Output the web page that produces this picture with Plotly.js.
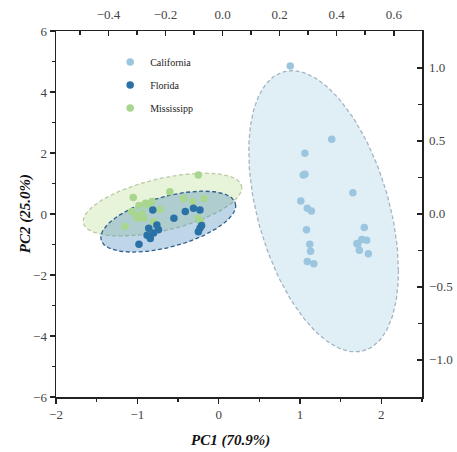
<!DOCTYPE html>
<html>
<head>
<meta charset="utf-8">
<script src="https://cdn.plot.ly/plotly-3.0.1.min.js"></script>
<style>html,body{margin:0;padding:0;background:#fff;}#chart{width:457px;height:452px;}</style>
</head>
<body>
<div id="chart"></div>
<script>
// Groups
var groups = ["California", "Florida", "Mississipp"];
var colors = ["#9cc6df", "#2a72a6", "#a8d68f"];

// PC scores
var californiaX = [0.88, 1.39, 1.06, 1.04, 1.06, 1.01, 1.09, 1.14, 1.65, 1.08, 1.12, 1.13, 1.09, 1.17, 1.79, 1.71, 1.76, 1.82, 1.73, 1.84, 1.70];
var californiaY = [4.85, 2.45, 1.99, 1.28, 1.30, 0.43, 0.19, 0.10, 0.70, -0.52, -0.99, -1.22, -1.56, -1.63, -0.44, -0.99, -0.84, -0.86, -1.19, -1.30, -0.97];

var floridaX = [-0.81, -0.86, -0.74, -0.84, -0.98, -0.76, -0.55, -0.41, -0.31, -0.23, -0.25, -0.23, -0.80, -0.88, -0.21];
var floridaY = [0.13, -0.47, -0.52, -0.80, -0.99, -0.36, -0.14, 0.08, 0.19, 0.13, -0.58, -0.47, -0.62, -0.70, -0.38];

var mississippiX = [-1.05, -0.98, -0.86, -0.82, -1.07, -0.94, -0.92, -1.00, -0.80, -1.15, -0.60, -0.25, -0.43, -0.32, -0.18, -0.25, -0.22, -1.01, -0.90, -0.72];
var mississippiY = [0.54, 0.28, 0.28, 0.41, 0.08, 0.02, -0.14, -0.14, -0.25, -0.41, 0.73, 1.28, 0.51, 0.41, 0.51, -0.14, -0.25, -0.04, 0.35, 0.15];

// Confidence ellipse parameters: centre, half-extent in x and y, correlation
var ellipseCX = [1.29, -0.62, -0.69];
var ellipseCY = [0.09, -0.25, 0.31];
var ellipseSX = [0.92, 0.83, 0.975];
var ellipseSY = [4.61, 1.00, 1.03];
var ellipseR  = [-0.424, 0.52, 0.53];

// Top and right axes (loadings scale)
var topRange = [-0.584, 0.699];
var rightRange = [-1.255, 1.252];

var ellipseFill = ["rgba(158,202,225,0.32)", "rgba(55,125,185,0.32)", "rgba(185,222,140,0.32)"];
var ellipseLine = ["#a3b4c2", "#2f5f8c", "#b9cca4"];

function ellipse(i) {
  var xs = [], ys = [];
  var n = 160, s = Math.sqrt(1 - ellipseR[i] * ellipseR[i]);
  for (var k = 0; k <= n; k++) {
    var t = 2 * Math.PI * k / n;
    xs.push(ellipseCX[i] + ellipseSX[i] * Math.cos(t));
    ys.push(ellipseCY[i] + ellipseSY[i] * (ellipseR[i] * Math.cos(t) + s * Math.sin(t)));
  }
  return {x: xs, y: ys, type: "scatter", mode: "lines", fill: "toself",
    fillcolor: ellipseFill[i], line: {color: ellipseLine[i], width: 1.3, dash: "4px,2.5px"},
    showlegend: false, hoverinfo: "skip"};
}

var serif = "Liberation Serif, Times New Roman, serif";
var xs = [californiaX, floridaX, mississippiX];
var ys = [californiaY, floridaY, mississippiY];

var traces = [ellipse(0), ellipse(2), ellipse(1)];
var order = [0, 2, 1];
order.forEach(function (i) {
  traces.push({x: xs[i], y: ys[i], type: "scatter", mode: "markers", name: groups[i],
    legendrank: i + 1, legendgroup: groups[i],
    marker: {color: colors[i], size: 7.5, line: {width: 0}}});
});
// dummy trace to activate top/right axes
traces.push({x: [topRange[0]], y: [rightRange[0]], xaxis: "x2", yaxis: "y2", mode: "markers",
  marker: {opacity: 0}, showlegend: false, hoverinfo: "skip", type: "scatter"});

var axisCommon = {showgrid: false, zeroline: false, showline: true, linecolor: "#222", linewidth: 1.5,
  tickcolor: "#222", tickwidth: 1.5, ticklen: 5, tickfont: {family: serif, size: 13, color: "#444"}};

function ax(extra) { return Object.assign({}, axisCommon, extra); }

var layout = {
  width: 457, height: 452,
  margin: {l: 56, r: 35.3, t: 30.7, b: 55.3},
  paper_bgcolor: "#fff", plot_bgcolor: "#fff",
  showlegend: true,
  legend: {x: 0.148, y: 0.955, xanchor: "left", yanchor: "top", bgcolor: "rgba(0,0,0,0)",
    font: {family: serif, size: 10, color: "#222"}, traceorder: "grouped", tracegroupgap: 4},
  xaxis: ax({range: [-2, 2.5], tickvals: [-2, -1, 0, 1, 2], ticks: "outside",
    minor: {tickvals: [-1.5, -0.5, 0.5, 1.5, 2.5], ticklen: 3, ticks: "outside", tickcolor: "#222", tickwidth: 1.5}}),
  yaxis: ax({range: [-6, 6], tickvals: [-6, -4, -2, 0, 2, 4, 6], ticks: "outside",
    minor: {tickvals: [-5, -3, -1, 1, 3, 5], ticklen: 3, ticks: "outside", tickcolor: "#222", tickwidth: 1.5}}),
  xaxis2: ax({range: topRange, overlaying: "x", side: "top", anchor: "y", tickvals: [-0.4, -0.2, 0, 0.2, 0.4, 0.6],
    tickformat: ".1f", ticks: "inside", ticklabelstandoff: 5,
    minor: {tickvals: [-0.5, -0.3, -0.1, 0.1, 0.3, 0.5], ticklen: 4, ticks: "inside", tickcolor: "#222", tickwidth: 1.5}}),
  yaxis2: ax({range: rightRange, overlaying: "y", side: "right", anchor: "x", tickvals: [-1, -0.5, 0, 0.5, 1],
    tickformat: ".1f", ticks: "inside", ticklabelstandoff: 3,
    minor: {tickvals: [-0.75, -0.25, 0.25, 0.75], ticklen: 4, ticks: "inside", tickcolor: "#222", tickwidth: 1.5}}),
  annotations: [
    {text: "<b><i>PC1 (70.9%)</i></b>", xref: "paper", yref: "paper", x: 0.477, y: -0.118,
      xanchor: "center", yanchor: "middle", showarrow: false, font: {family: serif, size: 15, color: "#111"}},
    {text: "<b><i>PC2 (25.0%)</i></b>", xref: "paper", yref: "paper", x: -0.084, y: 0.5, textangle: -90,
      xanchor: "center", yanchor: "middle", showarrow: false, font: {family: serif, size: 15, color: "#111"}}
  ]
};

Plotly.newPlot("chart", traces, layout, {displayModeBar: false, staticPlot: true});
</script>
</body>
</html>
